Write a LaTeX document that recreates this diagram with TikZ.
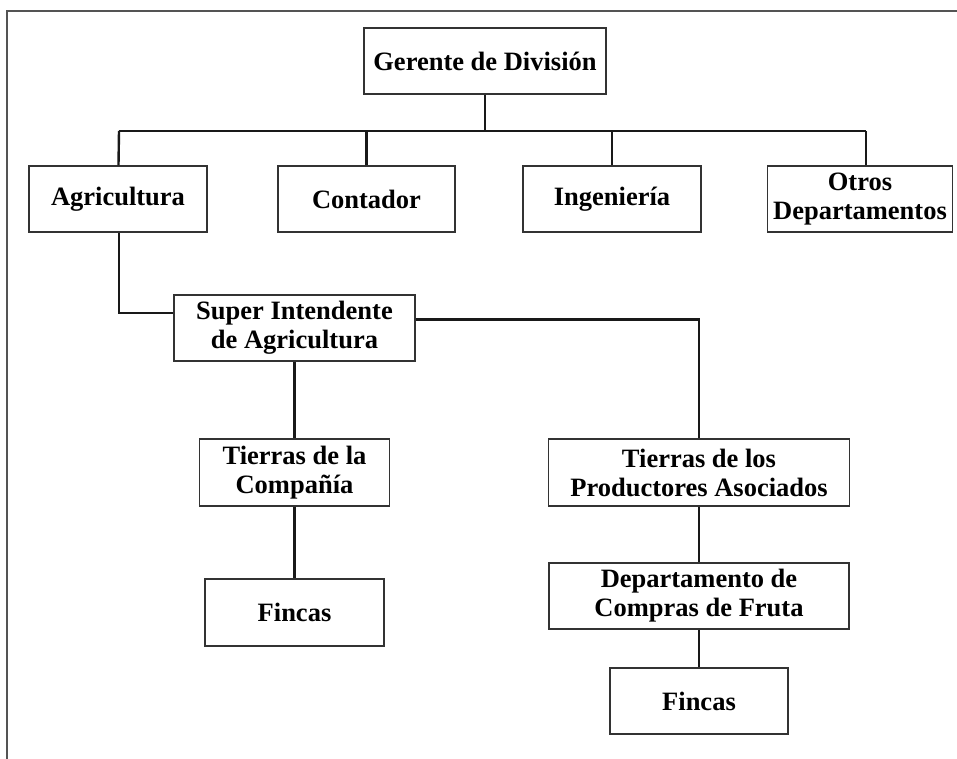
\documentclass[tikz,border=0pt]{standalone}
\usepackage{fontspec}
\setmainfont{Liberation Serif}
\usepackage{tikz}

\begin{document}
\begin{tikzpicture}[x=1pt,y=-1pt,node distance=124pt,
	unit/.style={draw=black!80, line width=1.3pt, align=center, inner sep=0pt,
		minimum height=66pt, font=\bfseries\fontsize{26.5}{29}\selectfont},
	link/.style={line width=2.4pt, black!90}]
	\useasboundingbox (0,0) rectangle (957,759);
	\draw[black!67, line width=1.8pt] (7,759) -- (7,11) -- (957,11);

	\node(ger) [unit, minimum width=242pt] at (485,61) {Gerente de División};
	\node(agr) [unit, minimum width=178pt] at (118,199) {Agricultura};
	\node(con) [unit, minimum width=177pt, right of=agr, node distance=248.5pt] {Contador};
	\node(ing) [unit, minimum width=178pt, right of=con, node distance=245.5pt] {Ingeniería};
	\node(otr) [unit, minimum width=185pt, right of=ing, node distance=248pt] {Otros\\Departamentos};
	\node(sup) [unit, minimum width=241pt] at (294.5,328) {Super Intendente\\de Agricultura};
	\node(tcom) [unit, minimum width=190pt, minimum height=67pt, below of=sup, node distance=144.5pt] {Tierras de la\\Compañía};
	\node(fin1) [unit, minimum width=179pt, minimum height=67pt, below of=tcom, node distance=140pt] {Fincas};
	\node(tpro) [unit, minimum width=301pt, minimum height=67pt] at (699,472.5) {Tierras de los\\Productores Asociados};
	\node(dep) [unit, minimum width=300pt, below of=tpro, node distance=123.5pt] {Departamento de\\Compras de Fruta};
	\node(fin2) [unit, minimum width=178pt, below of=dep, node distance=105pt] {Fincas};

	\coordinate(bus) at (485,131);
	\coordinate(busL) at (119,131);
	\coordinate(busR) at (866,131);

	\draw[link](ger) -- (bus);
	\draw[link](busL) -- (busR);
	\draw[link](agr) -- (busL);
	\draw[link](con.north) -- (con.north |- bus);
	\draw[link](ing.north) -- (ing.north |- bus);
	\draw[link](otr.north -| busR) -- (busR);
	\draw[link](agr.south -| busL) |- ([yshift=15pt]sup.west);
	\draw[link]([yshift=8.5pt]sup.east) -| (tpro);
	\draw[link](sup) -- (tcom);
	\draw[link](tcom) -- (fin1);
	\draw[link](tpro) -- (dep);
	\draw[link](dep) -- (fin2);

	\end{tikzpicture}
\end{document}
